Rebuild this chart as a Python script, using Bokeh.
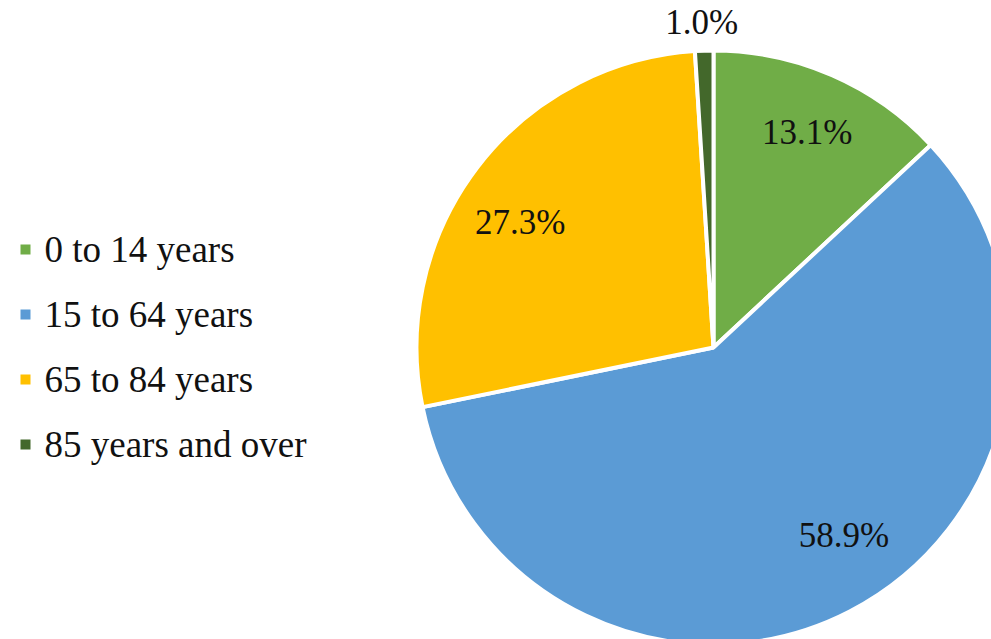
import math
from bokeh.plotting import figure
from bokeh.models import Range1d, ColumnDataSource
from bokeh.core.properties import value
from bokeh.embed import file_html
from bokeh.resources import INLINE

# ---- data ----
categories = ["0 to 14 years", "15 to 64 years", "65 to 84 years", "85 years and over"]
shares = [13.1, 58.9, 27.3, 1.0]
labels = ["13.1%", "58.9%", "27.3%", "1.0%"]
colors = ["#70AD47", "#5B9BD5", "#FFC000", "#43682B"]

# ---- layout / style ----
W, H = 991, 639
CX, CY = 713, 292          # pie centre (data units = pixels)
R = 297
FONT = "Liberation Serif"
label_rfrac = [0.79, 0.77, 0.775, 1.095]
label_dang = [0.0, -7.5, -4.5, -0.3]   # degrees nudges (best-fit placement)

total = sum(shares)
starts, ends, lx, ly = [], [], [], []
cum = 0.0
for i, s in enumerate(shares):
    a0 = cum / total * 360.0
    cum += s
    a1 = cum / total * 360.0
    # clockwise from 12 o'clock -> bokeh anticlockwise from +x
    starts.append(math.radians(90 - a1))
    ends.append(math.radians(90 - a0))
    mid = (a0 + a1) / 2 + label_dang[i]
    rr = R * label_rfrac[i]
    lx.append(CX + rr * math.sin(math.radians(mid)))
    ly.append(CY + rr * math.cos(math.radians(mid)))

src = ColumnDataSource(dict(start=starts, end=ends, color=colors, lx=lx, ly=ly, label=labels))

p = figure(width=W, height=H, output_backend="svg", toolbar_location=None,
           x_range=Range1d(0, W), y_range=Range1d(0, H), min_border=0,
           outline_line_color=None, background_fill_color="white",
           border_fill_color="white")
p.axis.visible = False
p.grid.visible = False

p.wedge(x=CX, y=CY, radius=R, start_angle="start", end_angle="end",
        fill_color="color", line_color="white", line_width=4, source=src)

p.text(x="lx", y="ly", text="label", source=src, text_font=value(FONT),
       text_font_size="35px", text_color="#111111", text_align="center",
       text_baseline="middle")

# legend (manual)
LEG_X, LEG_Y0, LEG_DY = 25, 390, 65
leg_y = [LEG_Y0 - i * LEG_DY for i in range(len(categories))]
leg_src = ColumnDataSource(dict(x=[LEG_X] * len(categories), tx=[LEG_X + 19] * len(categories),
                                y=leg_y, color=colors, label=categories))
p.scatter(x="x", y="y", marker="square", size=10, fill_color="color",
          line_color=None, source=leg_src)
p.text(x="tx", y="y", text="label", source=leg_src, text_font=value(FONT),
       text_font_size="37px", text_color="#111111", text_align="left",
       text_baseline="middle")

open("out.html", "w").write(file_html(p, INLINE))
